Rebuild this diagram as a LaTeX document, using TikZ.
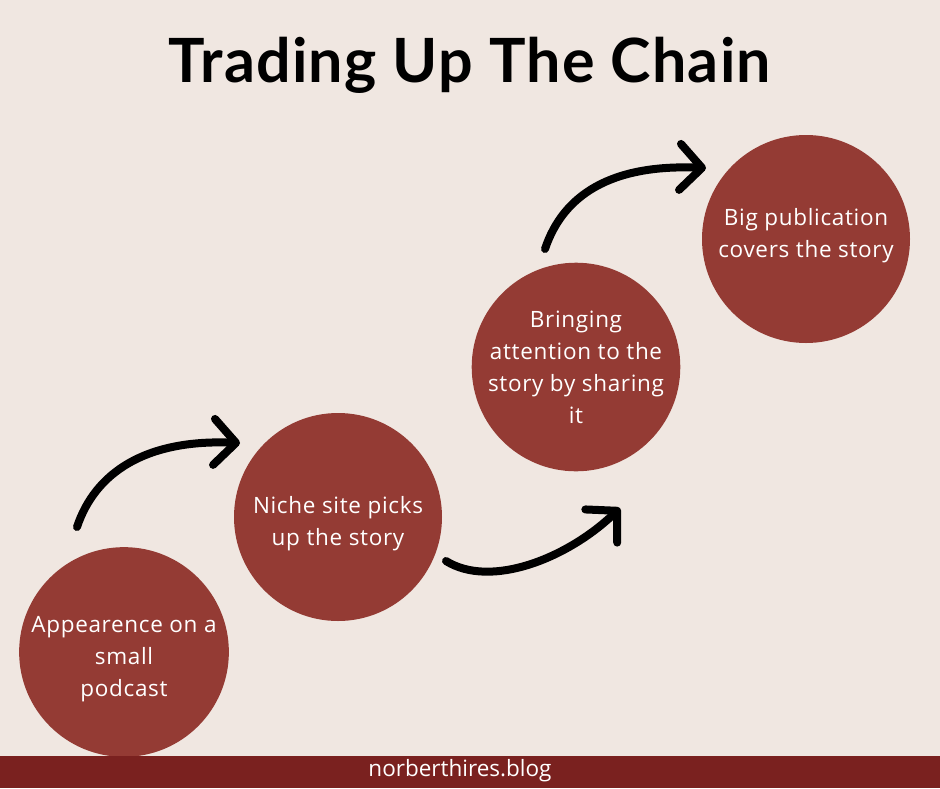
\documentclass[tikz,border=0pt]{standalone}
\usepackage{fontspec}
\setmainfont{Open Sans}
\newfontfamily\titlefont{Lato}[LetterSpace=2]
\newfontfamily\stagefont{Open Sans}[LetterSpace=3]
\usetikzlibrary{arrows.meta,calc}
\definecolor{chainbg} {HTML}{F0E7E1}
\definecolor{chainred}{HTML}{943B34}
\definecolor{chainbar}{HTML}{7A211F}
% extra room above the first line, pushes circle text down a bit
\newcommand\stagegap{\rule{0pt}{30pt}}

\begin{document}
\begin{tikzpicture}[
  x=1pt, y=-1pt,
  stage/.style ={circle,fill=chainred,minimum size=208pt,inner sep=0pt,
                 align=center,text=white,
                 font=\stagefont\fontsize{22.5}{32}\selectfont},
  ttl/.style   ={anchor=base,font=\titlefont\bfseries\fontsize{61}{64}\selectfont},
  foot/.style  ={text=white,font=\fontsize{22.5}{24}\selectfont},
  brush/.style ={line width=8pt,line cap=round,
                 -{Straight Barb[length=22pt,width=46pt,line width=8pt,round]}}
]
%% Page and background
\useasboundingbox (0,0) rectangle (940,788);
\fill[chainbg] (0,0) rectangle (940,788);
%% Title
\node[ttl] (title) at (470,82) {Trading Up The Chain};
%% Stages (bottom left to top right)
\node[stage] (podcast) at (124,652) {\stagegap Appearence on a\\small\\podcast};
\node[stage] (niche)   at (338,517) {\stagegap Niche site picks\\up the story};
\node[stage] (share)   at (576,367) {Bringing\\attention to the\\story by sharing\\it};
\node[stage,text depth=25pt] (big) at (806,239)
  {\stagegap Big publication\\covers the story};
%% Footer
\fill[chainbar] (0,756) rectangle (940,788);
\node[foot] (footer) at (460,771) {norberthires.blog};
%% Arrow ends
\coordinate (a1s) at (77,527);  \coordinate (a1e) at (240,443);
\coordinate (a2s) at (446,561); \coordinate (a2e) at (620,508);
\coordinate (a3s) at (545,249); \coordinate (a3e) at (706,168);
%% Brush arrows
\draw[brush] (a1s) .. controls ($(a1s)+(18,-54)$) and ($(a1e)+(-95,-4)$) .. (a1e);
\draw[brush] (a2s) .. controls ($(a2s)+(45,28)$) and ($(a2e)+(-52,50)$) .. (a2e);
\draw[brush] (a3s) .. controls ($(a3s)+(18,-54)$) and ($(a3e)+(-95,-4)$) .. (a3e);
\end{tikzpicture}
\end{document}
